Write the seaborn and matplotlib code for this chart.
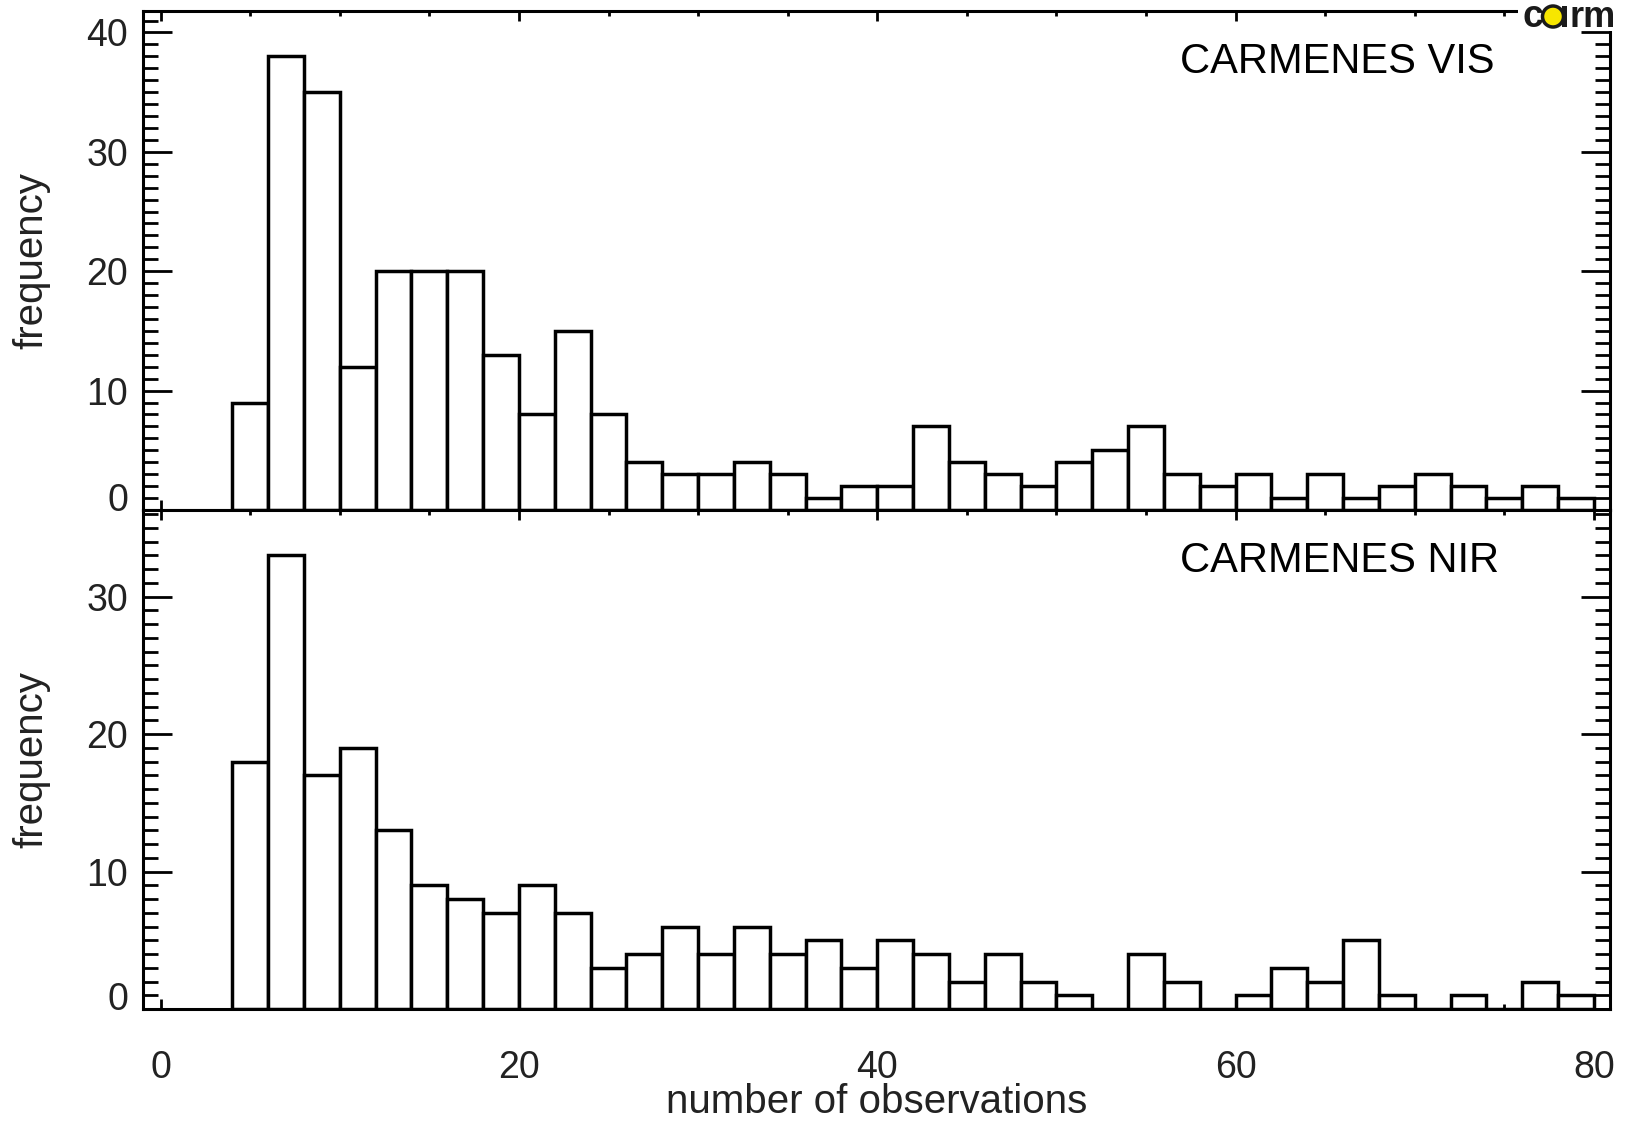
import numpy as np
import pandas as pd
import matplotlib
matplotlib.use("Agg")
import matplotlib.pyplot as plt
import matplotlib.transforms as mtransforms
from matplotlib.patches import Rectangle, Ellipse
from matplotlib.ticker import MultipleLocator
import seaborn as sns

# ---------------- data ----------------
bin_edges = list(range(4, 82, 2))          # histogram bins of width 2 from 4 to 80
bin_centers = [e + 1 for e in bin_edges[:-1]]

vis_counts = [9, 38, 35, 12, 20, 20, 20, 13, 8, 15,
              8, 4, 3, 3, 4, 3, 1, 2, 2, 7,
              4, 3, 2, 4, 5, 7, 3, 2, 3, 1,
              3, 1, 2, 3, 2, 1, 2, 1]
nir_counts = [18, 33, 17, 19, 13, 9, 8, 7, 9, 7,
              3, 4, 6, 4, 6, 4, 5, 3, 5, 4,
              2, 4, 2, 1, 0, 4, 2, 0, 1, 3,
              2, 5, 1, 0, 1, 0, 2, 1]
panel_labels = ["CARMENES VIS", "CARMENES NIR"]
x_ticks = [0, 20, 40, 60, 80]
vis_yticks = [0, 10, 20, 30, 40]
nir_yticks = [0, 10, 20, 30]

# ---------------- style ----------------
sns.set_style("white")
plt.rcParams["font.family"] = ["Liberation Sans", "DejaVu Sans"]
TXT = "#222222"

W, H = 1627, 1142
fig = plt.figure(figsize=(W / 100, H / 100), dpi=100)

left_px, right_px = 142.7, 1610
top_px, mid_px, bot_px = 11, 510, 1009
ax_l = left_px / W
ax_w = (right_px - left_px) / W
ax_h = (mid_px - top_px) / H
ax1 = fig.add_axes([ax_l, 1 - mid_px / H, ax_w, ax_h])
ax2 = fig.add_axes([ax_l, 1 - bot_px / H, ax_w, (bot_px - mid_px) / H])

datasets = [(ax1, vis_counts, 41.8, vis_yticks), (ax2, nir_counts, 36.3, nir_yticks)]
for i, (ax, counts, ymax, yt) in enumerate(datasets):
    df = pd.DataFrame({"n_obs": bin_centers, "count": counts})
    sns.histplot(data=df, x="n_obs", weights="count", bins=bin_edges, ax=ax,
                 stat="count", fill=True, color="white", edgecolor="black",
                 linewidth=2.5, alpha=1.0)
    ax.set_xlim(-1.0, 80.9)
    ax.set_ylim(0, ymax)
    ax.set_xticks(x_ticks)
    ax.xaxis.set_minor_locator(MultipleLocator(5))
    ax.set_yticks(yt)
    ax.yaxis.set_minor_locator(MultipleLocator(1))
    ax.tick_params(axis="both", which="both", direction="in",
                   top=True, bottom=True, left=True, right=True,
                   width=2.0, color="black", labelsize=27, labelcolor=TXT)
    ax.tick_params(axis="y", which="major", length=20.9, pad=10.5)
    ax.tick_params(axis="y", which="minor", length=10.8)
    ax.tick_params(axis="x", which="major", length=7.0, pad=29.5)
    ax.tick_params(axis="x", which="minor", length=3.6)
    for s in ax.spines.values():
        s.set_linewidth(2.2)
        s.set_color("black")
        s.set_visible(True)
    ax.set_ylabel("frequency", fontsize=29, color=TXT)
    ax.yaxis.label.set_verticalalignment("center")
    ax.yaxis.set_label_coords((31 - left_px) / (right_px - left_px), 0.5)
    ax.set_xlabel("")
    ax.text(0.707, 0.876, panel_labels[i], transform=ax.transAxes,
            fontsize=30, ha="left", va="baseline", color="black")
    # shift the "0" label upward a little, as in the original
    off = mtransforms.ScaledTranslation(0, 13 / 100, fig.dpi_scale_trans)
    lab0 = ax.yaxis.get_major_ticks()[0].label1
    lab0.set_transform(lab0.get_transform() + off)

ax1.tick_params(axis="x", labelbottom=False)
ax2.set_xlabel("number of observations", fontsize=29, color=TXT)
ax2.xaxis.label.set_verticalalignment("baseline")
ax2.xaxis.set_label_coords(0.5, (bot_px - 1113) / (bot_px - mid_px))

# ---------------- logo in the corner ----------------
def fx(px):
    return px / W

def fy(py):
    return 1 - py / H

LOGO = "#1a1a1a"
fig.patches.append(Rectangle((fx(1518), fy(31)), fx(1627) - fx(1518), fy(0) - fy(31),
                             transform=fig.transFigure, facecolor="white",
                             edgecolor="none", zorder=10))
fig.text(fx(1522), fy(27), "c", fontsize=27, fontweight="bold", color=LOGO,
         ha="left", va="baseline", zorder=11)
fig.patches.append(Ellipse((fx(1553), fy(16.5)), width=21 / W, height=21 / H,
                           transform=fig.transFigure, facecolor="#f7e600",
                           edgecolor=LOGO, linewidth=2.5, zorder=11))
fig.patches.append(Rectangle((fx(1562), fy(27)), fx(1567) - fx(1562), fy(6) - fy(27),
                             transform=fig.transFigure, facecolor=LOGO,
                             edgecolor="none", zorder=12))
fig.text(fx(1569), fy(27), "rm", fontsize=26, fontweight="bold", color=LOGO,
         ha="left", va="baseline", zorder=11)

fig.savefig("out.png", dpi=100, facecolor="white")
